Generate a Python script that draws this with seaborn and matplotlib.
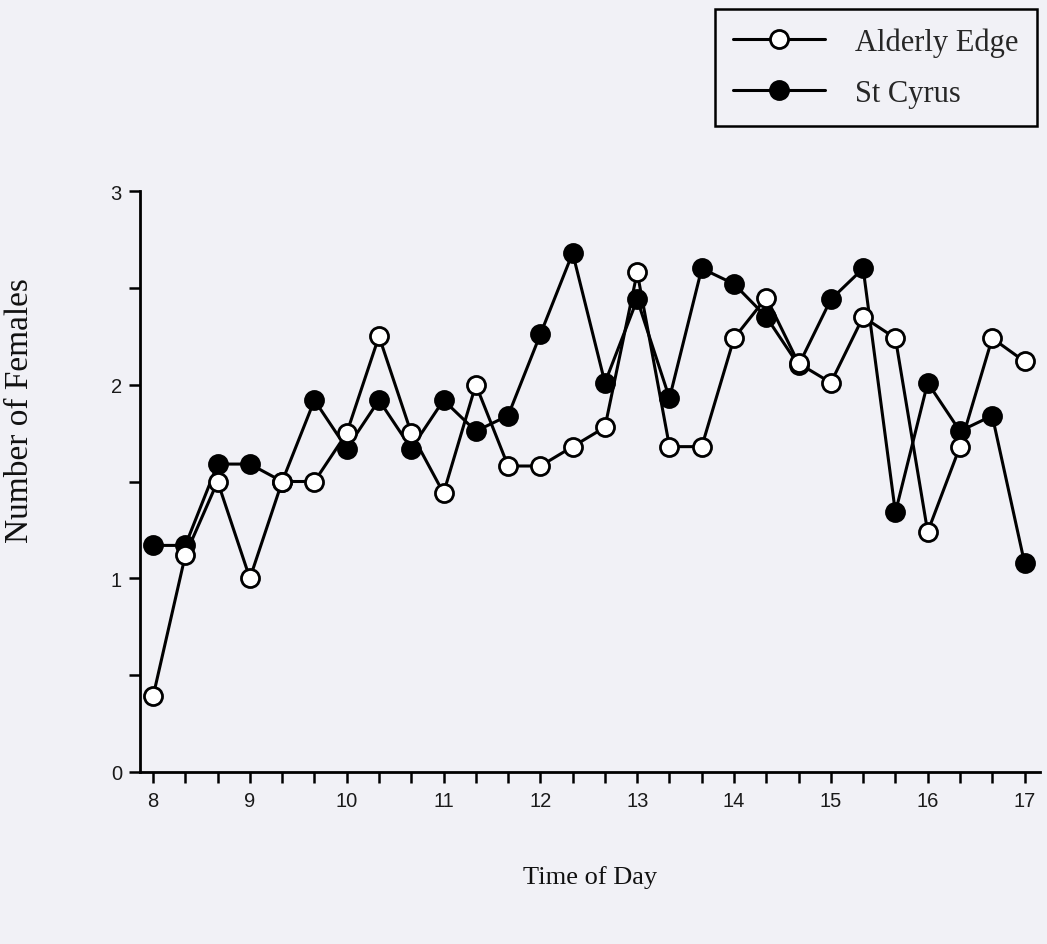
import matplotlib
matplotlib.use("Agg")
import matplotlib.pyplot as plt
from matplotlib.ticker import MultipleLocator, FixedLocator
import seaborn as sns
import pandas as pd

# Observation times (every 20 minutes, 08:00 - 17:00)
clock_times = ["8:00", "8:20", "8:40", "9:00", "9:20", "9:40",
               "10:00", "10:20", "10:40", "11:00", "11:20", "11:40",
               "12:00", "12:20", "12:40", "13:00", "13:20", "13:40",
               "14:00", "14:20", "14:40", "15:00", "15:20", "15:40",
               "16:00", "16:20", "16:40", "17:00"]

# Mean number of females present at each time
alderly_edge = [0.39, 1.12, 1.50, 1.00, 1.50, 1.50,
                1.75, 2.25, 1.75, 1.44, 2.00, 1.58,
                1.58, 1.68, 1.78, 2.58, 1.68, 1.68,
                2.24, 2.45, 2.11, 2.01, 2.35, 2.24,
                1.24, 1.68, 2.24, 2.12]
st_cyrus = [1.17, 1.17, 1.59, 1.59, 1.50, 1.92,
            1.67, 1.92, 1.67, 1.92, 1.76, 1.84,
            2.26, 2.68, 2.01, 2.44, 1.93, 2.60,
            2.52, 2.35, 2.10, 2.44, 2.60, 1.34,
            2.01, 1.76, 1.84, 1.08]

hour_ticks = [8, 9, 10, 11, 12, 13, 14, 15, 16, 17]


def to_hours(t):
    h, m = t.split(":")
    return int(h) + int(m) / 60.0


hours = [to_hours(t) for t in clock_times]
df = pd.DataFrame({"time": hours, "Alderly Edge": alderly_edge, "St Cyrus": st_cyrus})

bg = "#f1f1f6"
sns.set_theme(style="ticks")
plt.rcParams["font.family"] = ["Liberation Serif", "DejaVu Serif"]

fig = plt.figure(figsize=(10.47, 9.45), dpi=100, facecolor=bg)
ax = fig.add_axes([140 / 1047, 1 - 773 / 945, 900 / 1047, (773 - 192) / 945])
ax.set_facecolor(bg)

line_kw = dict(color="black", linewidth=2.2, marker="o", markersize=13,
               markeredgecolor="black", markeredgewidth=2.0)
sns.lineplot(data=df, x="time", y="Alderly Edge", ax=ax, markerfacecolor="white",
             label="Alderly Edge", zorder=3, **line_kw)
sns.lineplot(data=df, x="time", y="St Cyrus", ax=ax, markerfacecolor="black",
             label="St Cyrus", zorder=2, **line_kw)

ax.set_xlim(7.865, 17.16)
ax.set_ylim(0, 3)
for s in ["top", "right"]:
    ax.spines[s].set_visible(False)
for s in ["left", "bottom"]:
    ax.spines[s].set_linewidth(2.0)
    ax.spines[s].set_color("black")

ax.xaxis.set_major_locator(FixedLocator(hour_ticks))
ax.xaxis.set_minor_locator(FixedLocator(hours))
ax.yaxis.set_major_locator(MultipleLocator(1))
ax.yaxis.set_minor_locator(MultipleLocator(0.5))
ax.tick_params(which="both", direction="out", length=8, width=1.8, color="black")
ax.tick_params(axis="x", which="major", pad=6)
ax.tick_params(axis="y", which="major", pad=5)
for lab in ax.get_xticklabels() + ax.get_yticklabels():
    lab.set_fontfamily("Liberation Sans")
    lab.set_fontsize(14.5)
    lab.set_color("#1a1a1a")

ax.set_xlabel("Time of Day", fontsize=19, labelpad=39, color="#111111")
ax.set_ylabel("Number of Females", fontsize=24, color="#111111")
ax.yaxis.set_label_coords(-0.117, 0.623)

ax.get_legend().remove()
handles, labels = ax.get_legend_handles_labels()
leg = fig.legend(handles, labels, loc="upper right",
                 bbox_to_anchor=(1037 / 1047, 1 - 10 / 945),
                 bbox_transform=fig.transFigure, borderaxespad=0,
                 fontsize=22, handlelength=3.0, handletextpad=1.0,
                 labelspacing=0.72, borderpad=0.6, fancybox=False,
                 frameon=True, facecolor=bg, edgecolor="black", framealpha=1)
leg.get_frame().set_linewidth(1.8)

fig.savefig("out.png", dpi=100, facecolor=bg)
